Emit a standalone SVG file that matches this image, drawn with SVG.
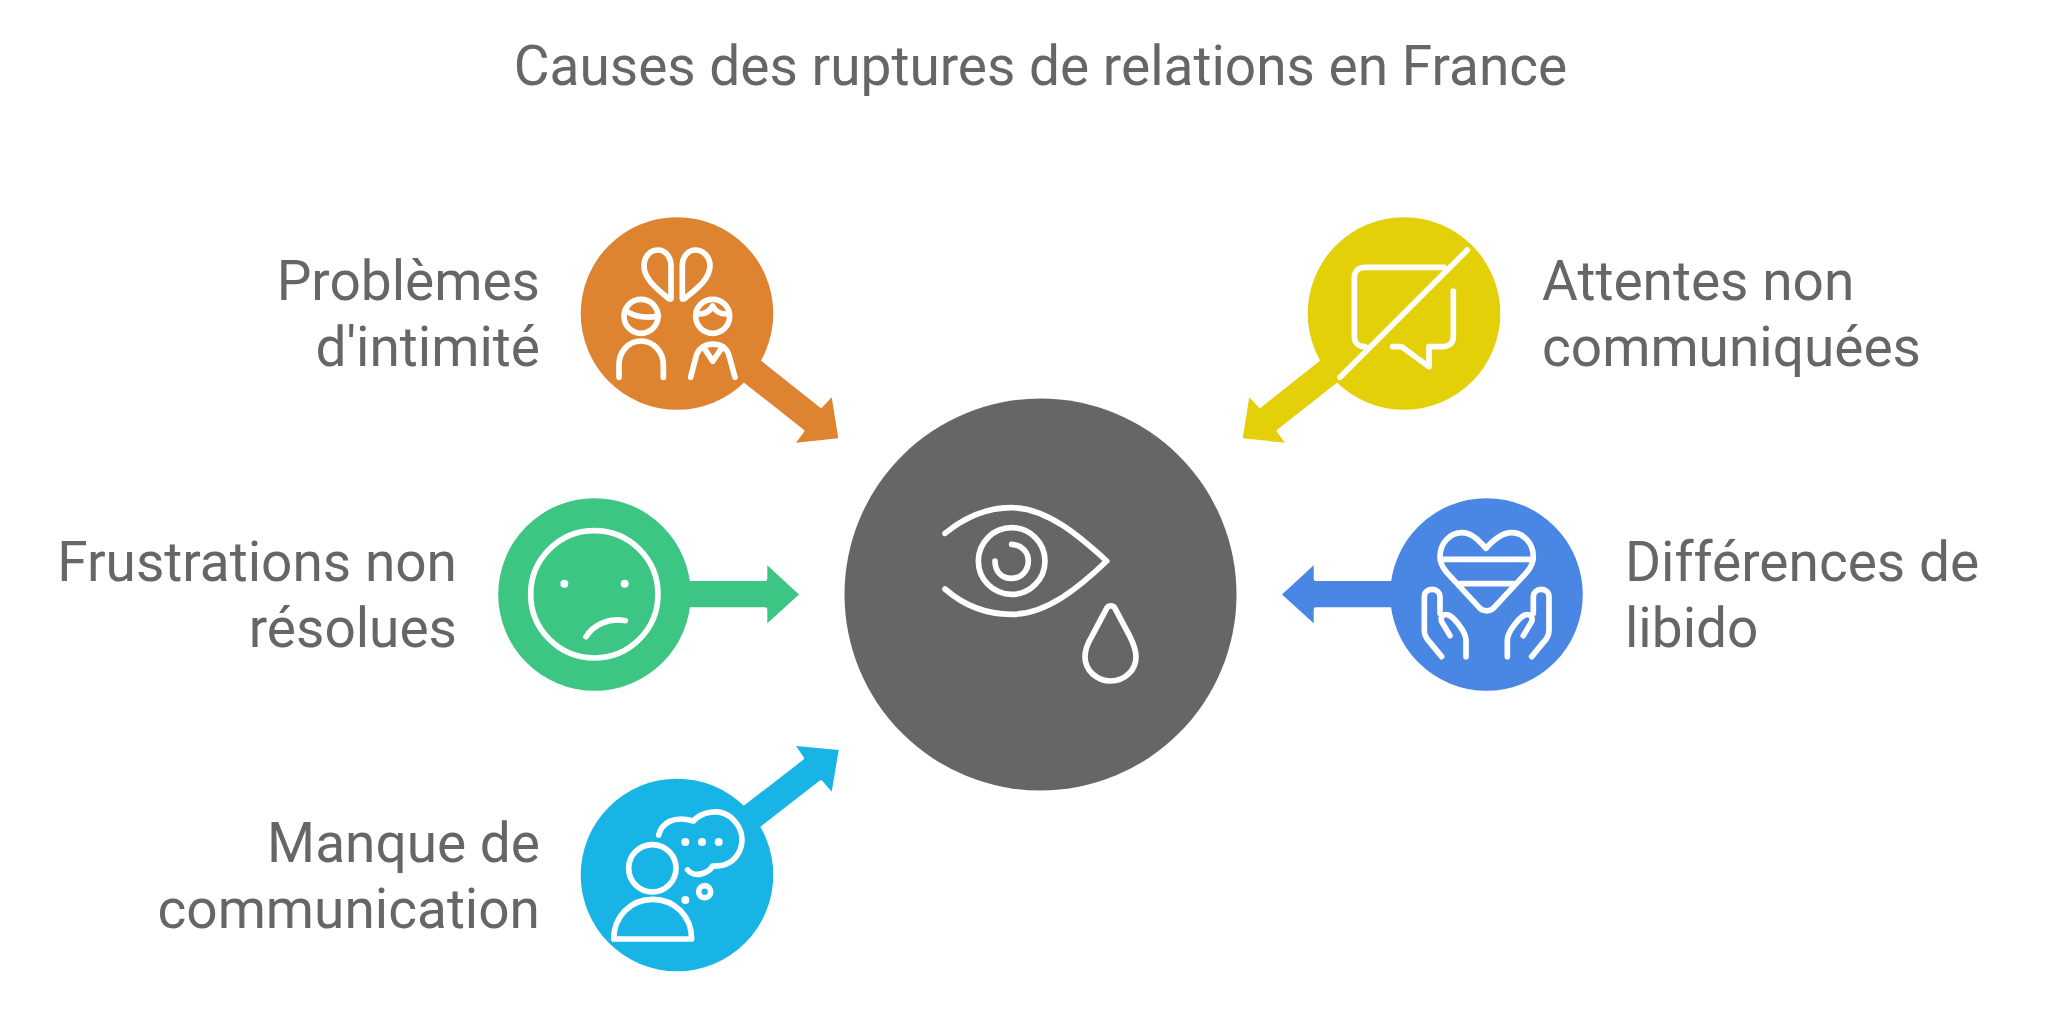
<svg xmlns="http://www.w3.org/2000/svg" width="2048" height="1017" viewBox="0 0 2048 1017">
<style>
text{font-family:Roboto,"Liberation Sans",sans-serif;fill:#666666}
.t{font-size:55px}
.l{font-size:55px}
.e{text-anchor:end}
.i{fill:none;stroke:#fff;stroke-width:17;stroke-linecap:round;stroke-linejoin:round}
.d{fill:#fff}
</style>
<rect width="2048" height="1017" fill="#fff"/>
<text id="title" class="t" x="1040.5" y="85" text-anchor="middle">Causes des ruptures de relations en France</text>
<g id="connectors">
<path fill="#DE8431" d="M750 352L820 407.5Q821.5 408.5 822.5 407L831.7 397.3L838.3 438.3L796 442.7L804 432Q805 430.5 803.5 429.5L733 374Z"/>
<path fill="#E3D009" d="M1331 352L1261 407.5Q1259.5 408.5 1258.5 407L1249.3 397.3L1242.7 438.3L1285 442.7L1277 432Q1276 430.5 1277.5 429.5L1348 374Z"/>
<path fill="#3CC583" d="M670 581H765Q767.3 581 767.3 579V565.3L799 594.5L767.3 623.3V609.5Q767.3 607.3 765 607.3H670Z"/>
<path fill="#4A86E4" d="M1411 581H1316Q1313.7 581 1313.7 579V565.3L1282 594.5L1313.7 623.3V609.5Q1313.7 607.3 1316 607.3H1411Z"/>
<path fill="#18B4E6" d="M733 814L803 760Q805 758.5 803.5 757L796 746L838.7 750L831.7 791.7L822.5 781Q821 779.5 819.5 780.7L750 835Z"/>
</g>
<g id="node-center">
<circle cx="1040.5" cy="594.5" r="196" fill="#666666"/>
<g class="i" transform="translate(900 480) scale(.33333)">
<path d="M135 160C190 115 260 83 335 83C440 83 540 170 620 243C540 320 440 403 335 403C260 403 190 375 135 327"/>
<circle cx="335" cy="243" r="100"/>
<path d="M285 243C285 275 305 295 335 295C365 295 385 270 385 243C385 215 365 195 335 193"/>
<path d="M620 385L575 470C560 495 555 510 555 530C555 570 590 603 632 603C675 603 708 570 708 530C708 510 700 490 690 470L645 385C640 375 625 375 620 385Z"/>
</g>
</g>
<g id="node-intimite">
<circle cx="677" cy="313.5" r="96.3" fill="#DE8431"/>
<g class="i" transform="translate(540 190) scale(.33333)">
<path d="M393 325V228C393 200 375 180 355 180C330 180 312 200 312 228C312 268 355 300 385 325Q393 330 393 325Z"/>
<path d="M427 325V228C427 200 445 180 465 180C490 180 510 200 510 228C510 268 465 300 435 325Q427 330 427 325Z"/>
<circle cx="303" cy="379" r="51"/>
<path d="M258 362C285 382 325 385 355 378"/>
<circle cx="518" cy="379" r="51"/>
<path d="M478 372C495 372 510 362 518 348C525 362 540 372 558 372"/>
<path d="M237 562V525C237 485 265 453 303 453C340 453 370 485 370 525V562"/>
<path d="M452 562L468 500C472 483 480 476 490 470L518 514L548 470C558 476 564 483 568 500L585 562"/>
<path d="M490 470C505 460 533 460 548 470"/>
</g>
<text class="l e" x="540" y="300">Problèmes</text>
<text class="l e" x="540" y="366">d'intimité</text>
</g>
<g id="node-attentes">
<circle cx="1404" cy="313.5" r="96.3" fill="#E3D009"/>
<g class="i" transform="translate(1220 190) scale(.33333)">
<path d="M672 232H435C415 232 403 245 403 262V440C403 458 415 470 435 470"/>
<path d="M742 180L360 562"/>
<path d="M700 303V440C700 460 685 470 665 470H627V530L545 470H518"/>
</g>
<text class="l" x="1542" y="300">Attentes non</text>
<text class="l" x="1542" y="366">communiquées</text>
</g>
<g id="node-frustrations">
<circle cx="594.5" cy="594.5" r="96.3" fill="#3CC583"/>
<g transform="translate(480 480) scale(.33333)">
<circle class="i" cx="343" cy="343" r="191"/>
<circle class="d" cx="253" cy="311" r="12"/>
<circle class="d" cx="434" cy="311" r="12"/>
<path class="i" d="M318 470C340 435 385 412 436 422"/>
</g>
<text class="l e" x="457" y="581">Frustrations non</text>
<text class="l e" x="457" y="647">résolues</text>
</g>
<g id="node-libido">
<circle cx="1486.5" cy="594.5" r="96.3" fill="#4A86E4"/>
<g class="i" transform="translate(1270 480) scale(.33333)">
<path d="M648 205C625 180 605 158 575 158C540 158 510 190 510 230C510 250 520 265 530 277L630 385C640 395 660 395 670 385L770 277C780 265 790 250 790 230C790 190 760 158 725 158C695 158 670 180 648 205Z"/>
<path d="M512 238H788M570 311H730"/>
<path d="M515 530L478 485C468 475 463 465 463 450V350C463 335 475 328 487 328C500 328 510 338 510 350V400"/>
<path d="M540 467L515 425C510 410 520 400 535 405C550 410 588 455 588 480V530"/>
<path d="M785 530L822 485C832 475 837 465 837 450V350C837 335 825 328 813 328C800 328 790 338 790 350V400"/>
<path d="M760 467L785 425C790 410 780 400 765 405C750 410 712 455 712 480V530"/>
</g>
<text class="l" x="1625" y="581">Différences de</text>
<text class="l" x="1625" y="647">libido</text>
</g>
<g id="node-communication">
<circle cx="677" cy="875" r="96.3" fill="#18B4E6"/>
<g transform="translate(570 740) scale(.33333)">
<g class="i">
<circle cx="247" cy="385" r="71"/>
<path d="M131 597H365C365 530 315 478 248 478C182 478 131 530 131 597Z"/>
<path d="M266 285C275 250 310 225 370 243C395 215 445 205 480 230C510 255 525 290 510 330C495 365 465 380 428 378C415 400 375 415 353 390"/>
<circle cx="404" cy="455" r="18"/>
</g>
<circle class="d" cx="346" cy="306" r="12"/>
<circle class="d" cx="396" cy="306" r="12"/>
<circle class="d" cx="446" cy="306" r="12"/>
<circle class="d" cx="346" cy="480" r="12"/>
</g>
<text class="l e" x="540" y="861.5">Manque de</text>
<text class="l e" x="540" y="927.5">communication</text>
</g>
</svg>
